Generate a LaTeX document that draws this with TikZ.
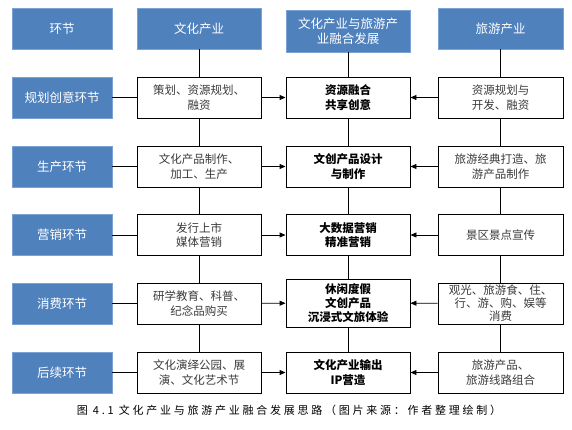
\documentclass[tikz,border=0pt]{standalone}
\usepackage{fontspec}
\setmainfont{Noto Sans CJK SC}
\newfontfamily\capfont[LetterSpace=25]{Noto Sans CJK SC}
\usetikzlibrary{arrows.meta}
\definecolor{hdrblue}{HTML}{4F81BD}
\definecolor{hdrline}{HTML}{7AA2D4}
\definecolor{txtgray}{HTML}{3A3A3A}
\tikzset{
  hdr/.style={rectangle, fill=hdrblue, draw=hdrline, line width=0.6pt, text=white,
    minimum height=41pt, align=center, font=\fontsize{12.5}{14.5}\selectfont, inner sep=1pt},
  cell/.style={rectangle, draw=black, fill=white, line width=0.9pt, minimum width=124pt,
    minimum height=41pt, align=center, font=\fontsize{11.5}{14.5}\selectfont, text=txtgray, inner sep=1pt},
  midcell/.style={cell, text=black, font=\fontsize{11.5}{14.5}\selectfont\bfseries},
  link/.style={line width=0.9pt, draw=black},
  arr/.style={link, -{Triangle[length=6pt,width=5pt]}}
}
\begin{document}
\begin{tikzpicture}[x=1pt,y=-1pt]
\useasboundingbox (0,0) rectangle (572,430);
% headers
\node[hdr, minimum width=100pt] (h1) at (62,28.5) {环节};
\node[hdr, minimum width=124pt] (h2) at (199,28.5) {文化产业};
\node[hdr, minimum width=124pt, minimum height=42pt] (h3) at (348,31) {文化产业与旅游产\\业融合发展};
\node[hdr, minimum width=125pt] (h4) at (500.5,28.5) {旅游产业};
% row labels
\node[hdr, minimum width=100pt] (s1) at (62,97.5) {规划创意环节};
\node[hdr, minimum width=100pt] (s2) at (62,166.5) {生产环节};
\node[hdr, minimum width=100pt] (s3) at (62,235) {营销环节};
\node[hdr, minimum width=100pt] (s4) at (62,303.5) {消费环节};
\node[hdr, minimum width=100pt] (s5) at (62,372.5) {后续环节};
% culture column
\node[cell] (c1) at (199,97.5) {策划、资源规划、\\融资};
\node[cell] (c2) at (199,166.5) {文化产品制作、\\加工、生产};
\node[cell] (c3) at (199,235) {发行上市\\媒体营销};
\node[cell] (c4) at (199,303.5) {研学教育、科普、\\纪念品购买};
\node[cell] (c5) at (199,372.5) {文化演绎公园、展\\演、文化艺术节};
% fusion column
\node[midcell] (m1) at (348,97.5) {资源融合\\共享创意};
\node[midcell] (m2) at (348,166.5) {文创产品设计\\与制作};
\node[midcell] (m3) at (348,235) {大数据营销\\精准营销};
\node[midcell, minimum height=48pt, font=\fontsize{11.5}{14}\selectfont\bfseries] (m4) at (348,303) {休闲度假\\文创产品\\沉浸式文旅体验};
\node[midcell] (m5) at (348,372.5) {文化产业输出\\IP营造};
% tourism column
\node[cell, minimum width=125pt] (t1) at (500.5,97.5) {资源规划与\\开发、融资};
\node[cell, minimum width=125pt] (t2) at (500.5,166.5) {旅游经典打造、旅\\游产品制作};
\node[cell, minimum width=125pt] (t3) at (500.5,235) {景区景点宣传};
\node[cell, minimum width=125pt, font=\fontsize{11.5}{13}\selectfont] (t4) at (500.5,303.5) {观光、旅游食、住、\\行、游、购、娱等\\消费};
\node[cell, minimum width=125pt] (t5) at (500.5,372.5) {旅游产品、\\旅游线路组合};
% vertical links
\draw[link] (h2) -- (c1); \draw[link] (c1) -- (c2); \draw[link] (c2) -- (c3); \draw[link] (c3) -- (c4); \draw[link] (c4) -- (c5);
\draw[link] (h3) -- (m1); \draw[link] (m1) -- (m2); \draw[link] (m2) -- (m3); \draw[link] (m3) -- (m4); \draw[link] (m4) -- (m5);
\draw[link] (h4) -- (t1); \draw[link] (t1) -- (t2); \draw[link] (t2) -- (t3); \draw[link] (t3) -- (t4); \draw[link] (t4) -- (t5);
% horizontal links
\foreach \i in {1,...,5}{
  \draw[link] (s\i) -- (c\i);
  \draw[arr] (c\i) -- (m\i);
  \draw[arr] (t\i) -- (m\i);
}
% caption
\node[font=\fontsize{11}{13}\selectfont\capfont, text=black, inner sep=0pt] (cap) at (289,410) {图 4.1 文化产业与旅游产业融合发展思路（图片来源：作者整理绘制）};
\end{tikzpicture}
\end{document}
